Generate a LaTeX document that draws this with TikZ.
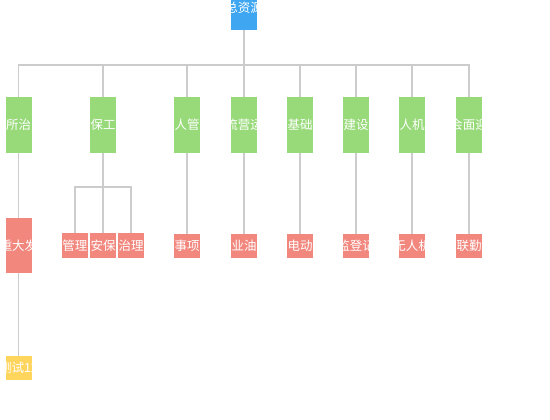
\documentclass[tikz,border=0pt]{standalone}
\usepackage{fontspec}
\setmainfont{Noto Sans CJK SC}
\definecolor{cblue}{HTML}{3FA7F2}
\definecolor{cgreen}{HTML}{98DA7A}
\definecolor{cred}{HTML}{F2877E}
\definecolor{cyel}{HTML}{FFD55E}
\definecolor{cline}{HTML}{CCCCCC}
\tikzset{
  box/.style={draw=none, minimum width=26pt, inner sep=0pt, outer sep=0pt},
  lbl/.style={text=white, font=\fontsize{12.5}{13}\selectfont, inner sep=0pt},
  rootbox/.style={box, fill=cblue, minimum height=44pt},
  l1box/.style={box, fill=cgreen, minimum height=56pt},
  l2tall/.style={box, fill=cred, minimum height=55pt},
  l2box/.style={box, fill=cred, minimum height=24pt},
  l3box/.style={box, fill=cyel, minimum height=24pt},
  conn/.style={draw=cline, line width=1.2pt}
}
\begin{document}
\begin{tikzpicture}[x=1pt,y=-1pt]
\useasboundingbox (0,0) rectangle (550,420);
\coordinate (j0) at (244,65);
\coordinate (j1) at (103,187);
% nodes
\node[rootbox, label={[lbl]center:总资源}] (root) at (244,8) {};
\node[l1box, label={[lbl]center:所治}] (a1) at (18.5,125) {};
\node[l1box, label={[lbl]center:保工}] (a2) at (103,125) {};
\node[l1box, label={[lbl]center:人管}] (a3) at (187,125) {};
\node[l1box, label={[lbl]center:流营运}] (a4) at (244,125) {};
\node[l1box, label={[lbl]center:基础}] (a5) at (300,125) {};
\node[l1box, label={[lbl]center:建设}] (a6) at (356,125) {};
\node[l1box, label={[lbl]center:人机}] (a7) at (412,125) {};
\node[l1box, label={[lbl]center:会面迎}] (a8) at (469,125) {};
\node[l2tall, label={[lbl]center:重大发}] (b1) at (18.5,245.5) {};
\node[l2box, label={[lbl]center:管理}] (b2a) at (75,245.5) {};
\node[l2box, label={[lbl]center:安保}] (b2b) at (103,245.5) {};
\node[l2box, label={[lbl]center:治理}] (b2c) at (131,245.5) {};
\node[l2box, label={[lbl]center:事项}] (b3) at (187,246) {};
\node[l2box, label={[lbl]center:业油}] (b4) at (244,246) {};
\node[l2box, label={[lbl]center:电动}] (b5) at (300,246) {};
\node[l2box, label={[lbl]center:监登记}] (b6) at (356,246) {};
\node[l2box, label={[lbl]center:无人机}] (b7) at (412,246) {};
\node[l2box, label={[lbl]center:联勤}] (b8) at (469,246) {};
\node[l3box, label={[lbl]center:测试12}] (c1) at (18.5,368) {};
% edges
\draw[conn] (root.south) -- (j0);
\foreach \n in {a1,a2,a3,a4,a5,a6,a7,a8} {\draw[conn] (j0) -| (\n.north);}
\draw[conn] (a1.south) -- (b1.north);
\draw[conn] (a2.south) -- (j1);
\foreach \n in {b2a,b2b,b2c} {\draw[conn] (j1) -| (\n.north);}
\draw[conn] (a3.south) -- (b3.north);
\draw[conn] (a4.south) -- (b4.north);
\draw[conn] (a5.south) -- (b5.north);
\draw[conn] (a6.south) -- (b6.north);
\draw[conn] (a7.south) -- (b7.north);
\draw[conn] (a8.south) -- (b8.north);
\draw[conn] (b1.south) -- (c1.north);
\end{tikzpicture}
\end{document}
